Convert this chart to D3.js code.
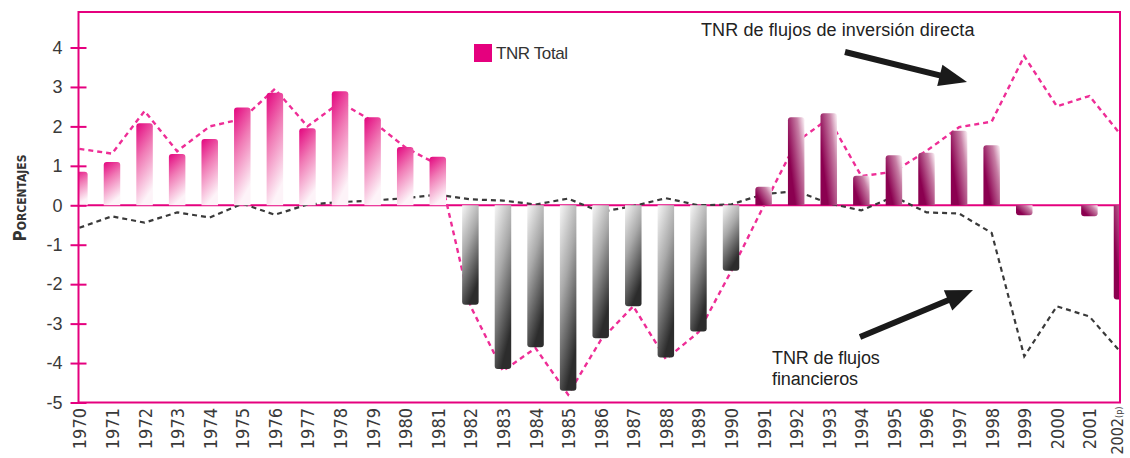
<!DOCTYPE html>
<html><head><meta charset="utf-8">
<script src="https://cdn.jsdelivr.net/npm/d3@7"></script>
<style>
html,body{margin:0;padding:0;background:#fff;}
svg{display:block;}
</style></head><body>
<svg id="chart" width="1130" height="458"></svg>
<script>
// ---------- DATA ----------
const years = ["1970","1971","1972","1973","1974","1975","1976","1977","1978","1979","1980","1981",
  "1982","1983","1984","1985","1986","1987","1988","1989","1990",
  "1991","1992","1993","1994","1995","1996","1997","1998","1999","2000","2001","2002"];
const yearTickLabels = ["1970","1971","1972","1973","1974","1975","1976","1977","1978","1979","1980","1981",
  "1982","1983","1984","1985","1986","1987","1988","1989","1990",
  "1991","1992","1993","1994","1995","1996","1997","1998","1999","2000","2001","2002"];
const provisionalMark = "(p)";
const tnrTotal = [0.85, 1.1, 2.08, 1.3, 1.68, 2.48, 2.85, 1.95, 2.89, 2.23, 1.48, 1.23,
  -2.52, -4.15, -3.6, -4.7, -3.37, -2.56, -3.86, -3.2, -1.66,
  0.47, 2.23, 2.33, 0.75, 1.27, 1.33, 1.89, 1.52, -0.25, 0, -0.28, -2.39];
const tnrDirectInvestment = [1.43, 1.31, 2.39, 1.37, 2.0, 2.19, 2.95, 2.0, 2.61, 2.13, 1.47, 1.03,
  -2.55, -4.2, -3.62, -4.8, -3.42, -2.56, -3.9, -3.22, -1.68,
  -0.02, 1.6, 2.2, 0.74, 0.85, 1.38, 1.98, 2.12, 3.78, 2.51, 2.77, 1.75];
const tnrFinancial = [-0.57, -0.28, -0.44, -0.18, -0.31, 0.04, -0.24, 0.02, 0.08, 0.12, 0.18, 0.27,
  0.15, 0.12, 0.02, 0.17, -0.17, -0.02, 0.18, 0.0, 0.02,
  0.28, 0.36, 0.05, -0.13, 0.22, -0.18, -0.21, -0.7, -3.83, -2.56, -2.82, -3.76];
const yTickValues = [-5, -4, -3, -2, -1, 0, 1, 2, 3, 4];
const legendLabel = "TNR Total";
const yTitleFirst = "P";
const yTitleRest = "ORCENTAJES";
const noteDirect = "TNR de flujos de inversión directa";
const noteFinancial = ["TNR de flujos", "financieros"];

// ---------- LAYOUT ----------
const PINK = "#e5007e";
const svg = d3.select("#chart");
const plot = {left: 78.5, right: 1120, top: 12, bottom: 402.5};
const x = d3.scalePoint().domain(years).range([79.4, 1122]);
const y = d3.scaleLinear().domain([-5, 4.9]).range([plot.bottom, plot.top]);
const barW = 16.5;

const defs = svg.append("defs");
defs.append("clipPath").attr("id", "plotClip").append("rect")
  .attr("x", plot.left).attr("y", plot.top)
  .attr("width", plot.right - plot.left).attr("height", plot.bottom - plot.top);

function grad(id, x1, y1, x2, y2, stops) {
  const g = defs.append("linearGradient").attr("id", id)
    .attr("x1", x1).attr("y1", y1).attr("x2", x2).attr("y2", y2);
  stops.forEach(s => g.append("stop").attr("offset", s[0]).attr("stop-color", s[1]));
}
grad("gPink", 0, 0, 0.3, 1, [[0, "#e3047e"], [0.45, "#f07ab5"], [1, "#fdf3f8"]]);
grad("gGray", 0, 0, 0.4, 1, [[0, "#f6f6f6"], [0.45, "#a9a9a9"], [1, "#2c2c2c"]]);
grad("gMaroon", 0.95, 0, 0.15, 0.55, [[0, "#f8eaf1"], [0.35, "#c77fa5"], [1, "#8b0050"]]);

function barFill(year) {
  const yr = +year;
  if (yr < 1982) return "url(#gPink)";
  if (yr < 1991) return "url(#gGray)";
  return "url(#gMaroon)";
}
function barPath(cx, v) {
  const x0 = cx - barW / 2, x1 = cx + barW / 2;
  const yb = y(0), ye = y(v);
  const h = Math.abs(ye - yb);
  const r = Math.min(3, h);
  if (v >= 0) {
    return `M${x0},${yb}V${ye + r}Q${x0},${ye} ${x0 + r},${ye}H${x1 - r}Q${x1},${ye} ${x1},${ye + r}V${yb}Z`;
  } else {
    return `M${x0},${yb}V${ye - r}Q${x0},${ye} ${x0 + r},${ye}H${x1 - r}Q${x1},${ye} ${x1},${ye - r}V${yb}Z`;
  }
}

const inner = svg.append("g").attr("clip-path", "url(#plotClip)");

// zero line
inner.append("line")
  .attr("x1", plot.left).attr("x2", plot.right)
  .attr("y1", y(0)).attr("y2", y(0))
  .attr("stroke", PINK).attr("stroke-width", 2);

// dashed lines
const lineGen = d3.line().x((d, i) => x(years[i])).y(d => y(d));
inner.append("path").datum(tnrFinancial)
  .attr("d", lineGen).attr("fill", "none")
  .attr("stroke", "#3a3a3a").attr("stroke-width", 2.2)
  .attr("stroke-dasharray", "5,4");
inner.append("path").datum(tnrDirectInvestment)
  .attr("d", lineGen).attr("fill", "none")
  .attr("stroke", "#ee2d96").attr("stroke-width", 2.4)
  .attr("stroke-dasharray", "5,4");

// bars
inner.selectAll("path.bar").data(tnrTotal.map((v, i) => ({year: years[i], v})).filter(d => d.v !== 0))
  .enter().append("path").attr("class", "bar")
  .attr("d", d => barPath(x(d.year), d.v))
  .attr("fill", d => barFill(d.year));

// frame
svg.append("rect")
  .attr("x", plot.left).attr("y", plot.top)
  .attr("width", plot.right - plot.left).attr("height", plot.bottom - plot.top)
  .attr("fill", "none").attr("stroke", PINK).attr("stroke-width", 2);

// y axis
const yAxis = svg.append("g").attr("transform", `translate(${plot.left},0)`)
  .call(d3.axisLeft(y).tickValues(yTickValues).tickFormat(d => String(d)).tickSize(8).tickPadding(8));
yAxis.select(".domain").remove();
yAxis.selectAll(".tick line").attr("x1", -8).attr("x2", 8).attr("stroke", PINK).attr("stroke-width", 2);
yAxis.selectAll(".tick text")
  .attr("font-family", "'Liberation Sans', Arial, sans-serif")
  .attr("font-size", 18).attr("fill", "#3a3a3a");

// x axis labels
const xAxis = svg.append("g").attr("transform", `translate(0,${plot.bottom})`)
  .call(d3.axisBottom(x).tickSize(0).tickFormat((d, i) => yearTickLabels[i]));
xAxis.select(".domain").remove();
xAxis.selectAll(".tick text")
  .attr("transform", "rotate(-90)")
  .attr("x", -5.5).attr("y", 0).attr("dy", "0.36em")
  .attr("text-anchor", "end")
  .attr("font-family", "'Liberation Sans Narrow', 'DejaVu Sans Condensed', sans-serif")
  .attr("font-size", 18).attr("fill", "#3a3a3a");
const lastLabel = xAxis.selectAll(".tick text").filter((d, i) => i === years.length - 1);
lastLabel.attr("font-size", 16).attr("x", -4).attr("dy", "0.05em");
lastLabel.append("tspan").attr("font-size", 9).attr("dy", "-0.1em").text(provisionalMark);

// y title
const yt = svg.append("text")
  .attr("transform", "translate(26,198) rotate(-90)")
  .attr("text-anchor", "middle")
  .attr("font-family", "'Liberation Sans Narrow', 'DejaVu Sans Condensed', sans-serif")
  .attr("font-weight", "bold").attr("fill", "#333");
yt.append("tspan").attr("font-size", 17).text(yTitleFirst);
yt.append("tspan").attr("font-size", 12).text(yTitleRest);

// legend
svg.append("rect").attr("x", 474).attr("y", 44).attr("width", 18).attr("height", 18).attr("fill", PINK);
svg.append("text").attr("x", 496).attr("y", 59)
  .attr("font-family", "'Liberation Sans', Arial, sans-serif").attr("font-size", 17)
  .attr("letter-spacing", -0.4).attr("fill", "#333").text(legendLabel);

// annotations
const noteFont = "'Liberation Sans', Arial, sans-serif";
svg.append("text").attr("x", 701).attr("y", 36)
  .attr("font-family", noteFont).attr("font-size", 18).attr("letter-spacing", 0.1)
  .attr("fill", "#222").text(noteDirect);
noteFinancial.forEach((t, i) => {
  svg.append("text").attr("x", 772).attr("y", 364 + i * 21)
    .attr("font-family", noteFont).attr("font-size", 18).attr("letter-spacing", -0.1)
    .attr("fill", "#222").text(t);
});

function arrow(tail, tip, headLen, headHalf, width) {
  const dx = tip[0] - tail[0], dy = tip[1] - tail[1];
  const L = Math.hypot(dx, dy), ux = dx / L, uy = dy / L;
  const bx = tip[0] - ux * headLen, by = tip[1] - uy * headLen;
  const px = -uy, py = ux;
  svg.append("line").attr("x1", tail[0]).attr("y1", tail[1]).attr("x2", bx + ux * 2).attr("y2", by + uy * 2)
    .attr("stroke", "#1a1a1a").attr("stroke-width", width);
  svg.append("path")
    .attr("d", `M${tip[0]},${tip[1]}L${bx + px * headHalf},${by + py * headHalf}L${bx - px * headHalf},${by - py * headHalf}Z`)
    .attr("fill", "#1a1a1a");
}
arrow([845, 52], [967, 82], 28, 11, 6);
arrow([860, 337], [973, 290], 27, 11, 6);
</script>
</body></html>
